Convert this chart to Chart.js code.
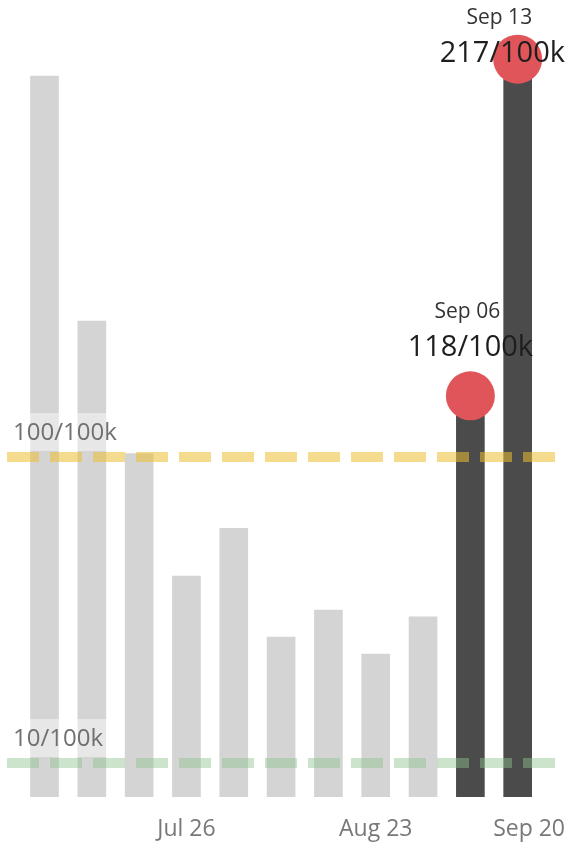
<!DOCTYPE html>
<html>
<head>
<meta charset="utf-8">
<script src="https://cdn.jsdelivr.net/npm/chart.js@4"></script>
<style>
  html, body { margin: 0; padding: 0; background: #fff; }
  #wrap { width: 569px; height: 847px; }
</style>
</head>
<body>
<div id="wrap"><canvas id="rates"></canvas></div>
<script>
// weekly case rate per 100k
const weeks = ['Jul 05', 'Jul 12', 'Jul 19', 'Jul 26', 'Aug 02', 'Aug 09', 'Aug 16', 'Aug 23', 'Aug 30', 'Sep 06', 'Sep 13'];
const rates = [212, 140, 101, 65, 79, 47, 55, 42, 53, 118, 217];
const highlighted = ['Sep 06', 'Sep 13'];

// x axis ticks (week index) and their labels
const tickWeeks = [3, 7, 11];
const tickLabels = ['Jul 26', 'Aug 23', 'Sep 20'];

// reference lines
const refValues = [100, 10];
const refLabels = ['100/100k', '10/100k'];
const refColours = ['rgba(235,190,50,0.55)', 'rgba(140,195,140,0.45)'];

const FONT = "'Open Sans', sans-serif";

const barData = rates.map((v, i) => ({ x: i, y: v }));
const dotData = weeks.map((w, i) => ({ x: i, y: rates[i] })).filter((d) => highlighted.includes(weeks[d.x]));

const overlays = {
  id: 'overlays',
  afterDatasetsDraw(chart) {
    const { ctx, chartArea, scales } = chart;
    ctx.save();
    // reference lines with their labels
    refValues.forEach((v, i) => {
      const y = scales.y.getPixelForValue(v);
      ctx.fillStyle = 'rgba(255,255,255,0.45)';
      ctx.fillRect(chartArea.left, y - 44, 107, 38);
      ctx.strokeStyle = refColours[i];
      ctx.lineWidth = 10;
      ctx.setLineDash([32, 11]);
      ctx.beginPath();
      ctx.moveTo(chartArea.left + 2, y);
      ctx.lineTo(chartArea.right - 4, y);
      ctx.stroke();
      ctx.setLineDash([]);
      ctx.fillStyle = '#707070';
      ctx.font = '24px ' + FONT;
      ctx.textAlign = 'left';
      ctx.textBaseline = 'middle';
      ctx.fillText(refLabels[i], 13, y - 24);
    });
    ctx.restore();
  },
  afterDraw(chart) {
    const { ctx } = chart;
    const meta = chart.getDatasetMeta(0);
    ctx.save();
    ctx.textAlign = 'center';
    ctx.textBaseline = 'middle';
    meta.data.forEach((pt, i) => {
      const d = dotData[i];
      const name = weeks[d.x];
      const value = d.y + '/100k';
      ctx.font = '29px ' + FONT;
      const w = ctx.measureText(value).width;
      let cx = pt.x;
      if (cx + w / 2 > chart.width - 4) cx = chart.width - 4 - w / 2;
      let top = Math.max(pt.y - 84, 18);
      ctx.fillStyle = '#333';
      ctx.font = '21px ' + FONT;
      ctx.fillText(name, cx - 3, top);
      ctx.fillStyle = '#1e1e1e';
      ctx.font = '29px ' + FONT;
      ctx.fillText(value, cx, top + 36);
    });
    ctx.restore();
  }
};

new Chart(document.getElementById('rates'), {
  type: 'bar',
  data: {
    datasets: [
      {
        type: 'line',
        data: dotData,
        showLine: false,
        pointRadius: 24.5,
        pointHoverRadius: 24.5,
        pointBackgroundColor: '#e0555a',
        pointBorderWidth: 0,
        clip: false,
        order: 0
      },
      {
        type: 'bar',
        data: barData,
        barThickness: 28,
        backgroundColor: weeks.map((w) => highlighted.includes(w) ? '#4b4b4b' : '#d4d4d4'),
        order: 1
      }
    ]
  },
  options: {
    responsive: true,
    maintainAspectRatio: false,
    animation: false,
    events: [],
    layout: { autoPadding: false, padding: { left: 5, right: 4, top: 0, bottom: 0 } },
    plugins: { legend: { display: false }, tooltip: { enabled: false } },
    scales: {
      x: {
        type: 'linear',
        offset: false,
        min: -0.835,
        max: 11,
        grid: { display: false, drawTicks: false, offset: false },
        border: { display: false },
        afterBuildTicks: (scale) => {
          scale.ticks = [{ value: scale.min }].concat(tickWeeks.map((v) => ({ value: v })));
        },
        afterFit: (scale) => {
          scale.height = 50;
          scale.paddingLeft = 0;
          scale.paddingRight = 0;
        },
        ticks: {
          autoSkip: false,
          maxRotation: 0,
          minRotation: 0,
          align: 'inner',
          padding: 19,
          color: '#787878',
          font: { family: FONT, size: 23 },
          callback: (value) => {
            const k = tickWeeks.indexOf(value);
            return k >= 0 ? tickLabels[k] : '';
          }
        }
      },
      y: {
        display: false,
        min: 0,
        max: 234.4
      }
    }
  },
  plugins: [overlays]
});
</script>
</body>
</html>
